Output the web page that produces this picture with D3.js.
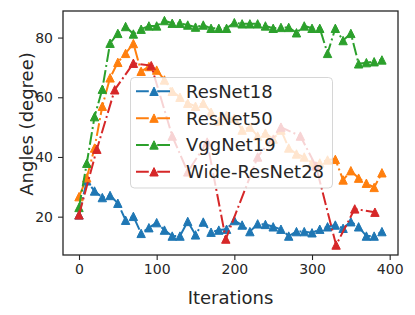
<!DOCTYPE html>
<html>
<head>
<meta charset="utf-8">
<script src="https://cdn.jsdelivr.net/npm/d3@7"></script>
<style>
  body { margin: 0; background: #fff; }
  svg { display: block; font-family: "DejaVu Sans", sans-serif; }
</style>
</head>
<body>
<div id="chart"></div>
<script>
// iterations logged for ResNet18, ResNet50 and VggNet19
const iterations = [0, 10, 20, 30, 40, 50, 60, 70, 80, 90,
    100, 110, 120, 130, 140, 150, 160, 170, 180, 190,
    200, 210, 220, 230, 240, 250, 260, 270, 280, 290,
    300, 310, 320, 330, 340, 350, 360, 370, 380, 390];

const resnet18 = [20.6, 32, 28.6, 26.4, 27.1, 24.5, 18.8, 20.1, 14.4, 16.3,
    18, 15.5, 13.5, 13.5, 18.4, 13.9, 18.2, 14.8, 15.5, 15.8,
    18.7, 17.2, 15, 17.6, 17.4, 16.6, 15.8, 13.5, 15, 15,
    14.6, 15.8, 16.6, 17.2, 16.1, 18.3, 16.6, 13.5, 13.5, 15];

const resnet50 = [26.7, 33, 43, 57, 66.5, 71.7, 74.7, 78, 68.7, 70.3,
    69.1, 65.8, 62, 60, 58, 57, 58, 55, 52, 54,
    53, 49, 50, 47, 48, 46, 49, 43, 41, 40,
    38, 38, 39, 39.2, 32.3, 35.4, 32.9, 31.2, 29.8, 34.7];

const vggnet19 = [23.1, 37.9, 53.5, 62.7, 78.1, 81.4, 83.7, 81.2, 82.8, 83.9,
    83.9, 85.7, 84.8, 84.8, 84.2, 83.5, 84.2, 83.1, 83.1, 83.1,
    85, 84.6, 84.6, 84.6, 83.9, 83.1, 83.4, 83.4, 81.6, 83.9,
    83.1, 83.1, 74.7, 83.1, 79, 81.4, 71.2, 71.6, 71.9, 72.5];

// Wide-ResNet28 was logged at fewer steps
const wideIterations = [0, 23, 46, 70, 93, 120, 140, 165, 189, 230, 260, 285, 305, 331, 355, 381];
const wideResnet28 = [20.6, 42.6, 62.5, 71.4, 70.6, 47, 35, 45, 12.5, 40, 50, 47, 37, 10.5, 22.6, 21.5];

const seriesNames = ['ResNet18', 'ResNet50', 'VggNet19', 'Wide-ResNet28'];
const seriesColors = ['#1f77b4', '#ff7f0e', '#2ca02c', '#d62728'];
const xTicks = [0, 100, 200, 300, 400];
const yTicks = [20, 40, 60, 80];

const W = 415, H = 315;
const plot = { left: 63, right: 398, top: 11, bottom: 255 };
const textColor = '#262626';

const svg = d3.select('#chart').append('svg')
    .attr('width', W)
    .attr('height', H);

const x = d3.scaleLinear().domain([-20.6, 410.7]).range([plot.left, plot.right]);
const y = d3.scaleLinear().domain([7.16, 88.9]).range([plot.bottom, plot.top]);

// series table built from the arrays above
const series = [
    { name: seriesNames[0], color: seriesColors[0], xs: iterations, ys: resnet18 },
    { name: seriesNames[1], color: seriesColors[1], xs: iterations, ys: resnet50 },
    { name: seriesNames[2], color: seriesColors[2], xs: iterations, ys: vggnet19 },
    { name: seriesNames[3], color: seriesColors[3], xs: wideIterations, ys: wideResnet28 },
];

const dash = '12.8,3.2,2,3.2';
const tri = (s) => `M0,${-s}L${s},${s}L${-s},${s}Z`;

const line = d3.line()
    .x(d => x(d[0]))
    .y(d => y(d[1]));

// lines and markers, drawn series by series
series.forEach(s => {
    const pts = s.xs.map((v, i) => [v, s.ys[i]]);
    const g = svg.append('g');
    g.append('path')
        .datum(pts)
        .attr('d', line)
        .attr('fill', 'none')
        .attr('stroke', s.color)
        .attr('stroke-width', 2)
        .attr('stroke-dasharray', dash);
    g.selectAll('path.mk')
        .data(pts)
        .enter()
        .append('path')
        .attr('class', 'mk')
        .attr('d', tri(4.2))
        .attr('transform', d => `translate(${x(d[0])},${y(d[1])})`)
        .attr('fill', s.color)
        .attr('stroke', s.color)
        .attr('stroke-width', 1);
});

// frame
svg.append('rect')
    .attr('x', plot.left)
    .attr('y', plot.top)
    .attr('width', plot.right - plot.left)
    .attr('height', plot.bottom - plot.top)
    .attr('fill', 'none')
    .attr('stroke', textColor)
    .attr('stroke-width', 1.3);

// x axis
const xAxis = svg.append('g')
    .attr('transform', `translate(0,${plot.bottom})`)
    .call(d3.axisBottom(x).tickValues(xTicks).tickSize(5).tickPadding(4));
xAxis.select('.domain').remove();
xAxis.selectAll('line').attr('stroke', textColor).attr('stroke-width', 1.1);
xAxis.selectAll('text')
    .attr('fill', textColor)
    .style('font-size', '14px')
    .style('font-family', '"DejaVu Sans", sans-serif');

// y axis
const yAxis = svg.append('g')
    .attr('transform', `translate(${plot.left},0)`)
    .call(d3.axisLeft(y).tickValues(yTicks).tickSize(5).tickPadding(5));
yAxis.select('.domain').remove();
yAxis.selectAll('line').attr('stroke', textColor).attr('stroke-width', 1.1);
yAxis.selectAll('text')
    .attr('fill', textColor)
    .style('font-size', '14px')
    .style('font-family', '"DejaVu Sans", sans-serif');

// axis titles
svg.append('text')
    .attr('x', (plot.left + plot.right) / 2)
    .attr('y', 304)
    .attr('text-anchor', 'middle')
    .attr('fill', textColor)
    .style('font-size', '18px')
    .text('Iterations');

svg.append('text')
    .attr('transform', 'translate(33,124) rotate(-90)')
    .attr('text-anchor', 'middle')
    .attr('fill', textColor)
    .style('font-size', '18px')
    .text('Angles (degree)');

// legend
const legend = svg.append('g');
legend.append('rect')
    .attr('x', 130.5)
    .attr('y', 77.5)
    .attr('width', 202)
    .attr('height', 110.5)
    .attr('rx', 4)
    .attr('fill', '#fff')
    .attr('fill-opacity', 0.8)
    .attr('stroke', '#cccccc')
    .attr('stroke-opacity', 0.8);

const rowY = d3.scaleLinear().domain([0, 3]).range([91.3, 171.8]);
series.forEach((s, i) => {
    const ry = rowY(i);
    legend.append('line')
        .attr('x1', 136).attr('x2', 172)
        .attr('y1', ry).attr('y2', ry)
        .attr('stroke', s.color)
        .attr('stroke-width', 2)
        .attr('stroke-dasharray', dash);
    legend.append('path')
        .attr('d', tri(4.2))
        .attr('transform', `translate(154,${ry})`)
        .attr('fill', s.color)
        .attr('stroke', s.color)
        .attr('stroke-width', 1);
    legend.append('text')
        .attr('x', 186)
        .attr('y', ry + 6.5)
        .attr('fill', textColor)
        .style('font-size', '18px')
        .text(s.name);
});
</script>
</body>
</html>
